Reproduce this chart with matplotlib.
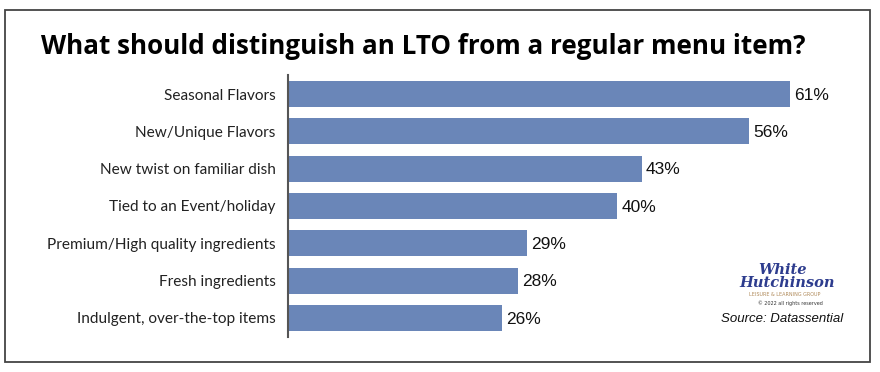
import matplotlib
matplotlib.use("Agg")
import matplotlib.pyplot as plt
from matplotlib.patches import Rectangle

categories = ["Seasonal Flavors", "New/Unique Flavors", "New twist on familiar dish",
              "Tied to an Event/holiday", "Premium/High quality ingredients",
              "Fresh ingredients", "Indulgent, over-the-top items"]
values = [61, 56, 43, 40, 29, 28, 26]
value_labels = ["61%", "56%", "43%", "40%", "29%", "28%", "26%"]

W, H = 880, 372
fig = plt.figure(figsize=(W / 100, H / 100), dpi=100)

# outer frame
fig.patches.append(Rectangle((5 / W, 1 - 362 / H), 865 / W, 352 / H, transform=fig.transFigure,
                             fill=False, edgecolor="#444444", linewidth=1.3))

fig.text(423 / W, 1 - 47 / H, "What should distinguish an LTO from a regular menu item?",
         ha="center", va="center", fontsize=18.7, fontweight="bold", family="Open Sans",
         color="black")

ax = fig.add_axes([288 / W, 35 / H, 576 / W, 262 / H])
y = list(range(len(categories)))
ax.barh(y, values, height=0.7, color="#6a86b8")
ax.set_xlim(0, 70)
ax.set_ylim(len(categories) - 0.49, -0.51)
for s in ["top", "right", "bottom"]:
    ax.spines[s].set_visible(False)
ax.spines["left"].set_color("#555555")
ax.spines["left"].set_linewidth(1.5)
ax.set_xticks([])
ax.set_yticks(y)
ax.set_yticklabels(categories, family="Lato", fontsize=11.1, color="#222222")
ax.tick_params(axis="y", length=0, pad=9)
for yi, v, lab in zip(y, values, value_labels):
    ax.text(v + 0.5, yi + 0.03, lab, va="center", ha="left", fontsize=12.5,
            family="Liberation Sans", color="#111111")

# logo approximation
fig.text(782 / W, 1 - 270 / H, "White", ha="center", va="center", fontsize=10.5,
         fontweight="bold", style="italic", family="DejaVu Serif", color="#2d3c8e")
fig.text(787 / W, 1 - 283 / H, "Hutchinson", ha="center", va="center", fontsize=10.5,
         fontweight="bold", style="italic", family="DejaVu Serif", color="#2d3c8e")
fig.text(785 / W, 1 - 295 / H, "LEISURE & LEARNING GROUP", ha="center", va="center",
         fontsize=3.5, color="#b08a5a", family="DejaVu Sans")
fig.text(790 / W, 1 - 303 / H, "© 2022 all rights reserved", ha="center", va="center",
         fontsize=3.5, color="#333333", family="DejaVu Sans")
fig.text(782 / W, 1 - 319 / H, "Source: Datassential", ha="center", va="center",
         fontsize=9.5, style="italic", family="Liberation Sans", color="#111111")

fig.savefig("out.png", dpi=100)
